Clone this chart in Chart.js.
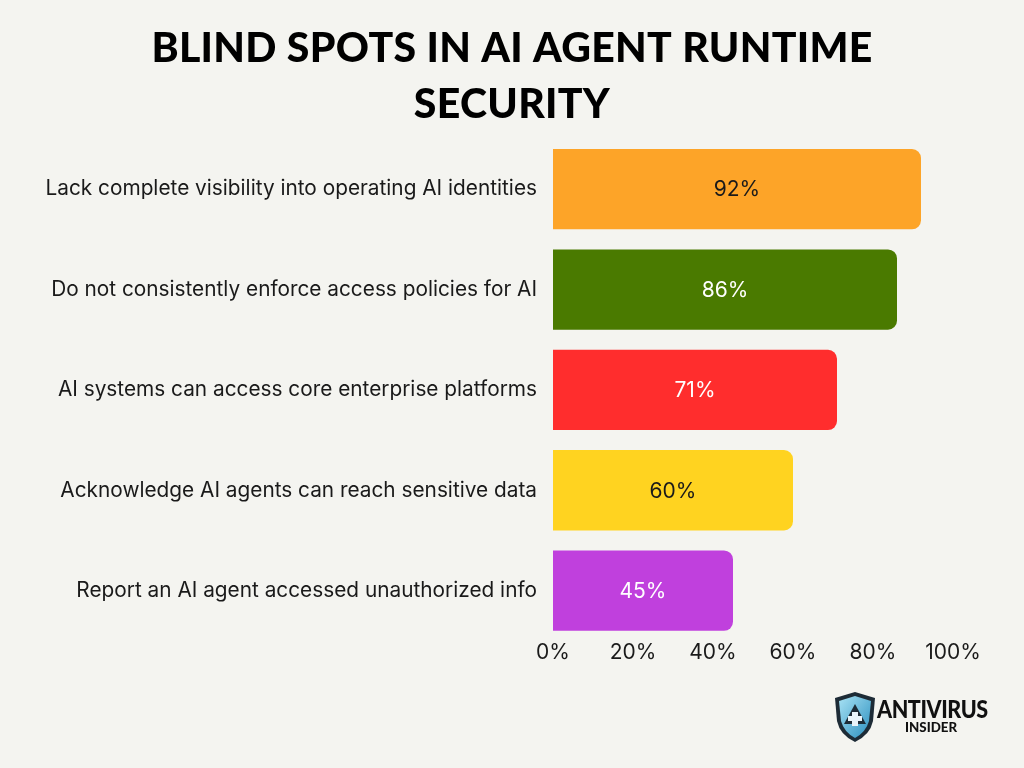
<!DOCTYPE html>
<html>
<head>
<meta charset="utf-8">
<script src="https://cdn.jsdelivr.net/npm/chart.js@4"></script>
<style>
  html, body { margin: 0; padding: 0; background: #f4f4f0; }
  #wrap { position: relative; width: 1024px; height: 768px; }
  #logo { position: absolute; left: 832px; top: 690px; width: 170px; height: 54px; }
  #logo .brand { position: absolute; left: 45px; top: 3px; font: 900 25px "Lato", sans-serif; color: #111; letter-spacing: -0.5px; transform: scaleX(0.86); transform-origin: left top; }
  #logo .sub { position: absolute; left: 73px; top: 28px; font: 900 14px "Lato", sans-serif; color: #111; transform: scaleX(0.95); transform-origin: left top; }
</style>
</head>
<body>
<div id="wrap">
  <canvas id="chart" width="1024" height="768"></canvas>
  <div id="logo">
    <svg width="46" height="54" viewBox="0 0 46 54">
      <defs>
        <linearGradient id="g" x1="0" y1="0" x2="1" y2="1">
          <stop offset="0" stop-color="#a8e2f4" />
          <stop offset="1" stop-color="#2b8fbf" />
        </linearGradient>
      </defs>
      <path d="M23 2 L43 8 L41 31 Q38 45 23 52 Q8 45 5 31 L3 8 Z" fill="#1d2b36" />
      <path d="M23 6 L39 11 L37 31 Q34 42 23 48 Q12 42 9 31 L7 11 Z" fill="url(#g)" />
      <path d="M23 14 L34 34 L12 34 Z" fill="#1d2b36" />
      <rect x="20" y="22" width="6" height="14" fill="#e8f4fa" />
      <rect x="16" y="26" width="14" height="5" fill="#e8f4fa" />
    </svg>
    <span class="brand">ANTIVIRUS</span>
    <span class="sub">INSIDER</span>
  </div>
</div>
<script>
// ====== DADOS ======
const categorias = [
  "Lack complete visibility into operating AI identities",
  "Do not consistently enforce access policies for AI",
  "AI systems can access core enterprise platforms",
  "Acknowledge AI agents can reach sensitive data",
  "Report an AI agent accessed unauthorized info"
];
const valores = [92, 86, 71, 60, 45];
const cores = ["#fda428", "#4a7a00", "#ff2d2d", "#ffd320", "#c040dd"];
const coresTexto = ["#1a1a1a", "#ffffff", "#ffffff", "#1a1a1a", "#ffffff"];
const tituloLinhas = ["BLIND SPOTS IN AI AGENT RUNTIME", "SECURITY"];

// ====== TÍTULO (centralizado na página) ======
const tituloPlugin = {
  id: "titulo",
  afterDraw(chart) {
    const { ctx } = chart;
    ctx.save();
    ctx.font = "900 41px Lato, sans-serif";
    ctx.letterSpacing = "0.3px";
    ctx.fillStyle = "#000";
    ctx.textAlign = "center";
    ctx.textBaseline = "middle";
    ctx.fillText(tituloLinhas[0], chart.width / 2, 49);
    ctx.fillText(tituloLinhas[1], chart.width / 2, 105);
    ctx.restore();
  }
};

// ====== RÓTULOS DENTRO DAS BARRAS ======
const rotulosPlugin = {
  id: "rotulos",
  afterDatasetsDraw(chart) {
    const { ctx } = chart;
    const meta = chart.getDatasetMeta(0);
    ctx.save();
    ctx.font = "21px Inter, sans-serif";
    ctx.textAlign = "center";
    ctx.textBaseline = "middle";
    meta.data.forEach((bar, i) => {
      ctx.fillStyle = coresTexto[i];
      ctx.fillText(valores[i] + "%", (bar.base + bar.x) / 2, bar.y + 1);
    });
    ctx.restore();
  }
};

// ====== GRÁFICO ======
new Chart(document.getElementById("chart"), {
  type: "bar",
  data: {
    labels: categorias,
    datasets: [{
      data: valores,
      backgroundColor: cores,
      borderRadius: { topRight: 9, bottomRight: 9, topLeft: 0, bottomLeft: 0 },
      borderSkipped: false,
      barPercentage: 0.8,
      categoryPercentage: 1
    }]
  },
  options: {
    indexAxis: "y",
    responsive: false,
    animation: false,
    layout: { padding: { left: 0, right: 71, top: 139, bottom: 104 } },
    plugins: {
      legend: { display: false },
      tooltip: { enabled: false },
      title: { display: false }
    },
    scales: {
      x: {
        min: 0, max: 100,
        grid: { display: false, drawTicks: false },
        border: { display: false },
        ticks: {
          stepSize: 20,
          color: "#1a1a1a",
          padding: -1,
          font: { family: "Inter", size: 21 },
          callback: v => v + "%"
        }
      },
      y: {
        grid: { display: false, drawTicks: false },
        border: { display: false },
        afterFit: scale => { scale.width = 553; },
        ticks: {
          color: "#1a1a1a",
          padding: 16,
          font: { family: "Inter", size: 20.8 }
        }
      }
    }
  },
  plugins: [rotulosPlugin, tituloPlugin]
});
</script>
</body>
</html>
